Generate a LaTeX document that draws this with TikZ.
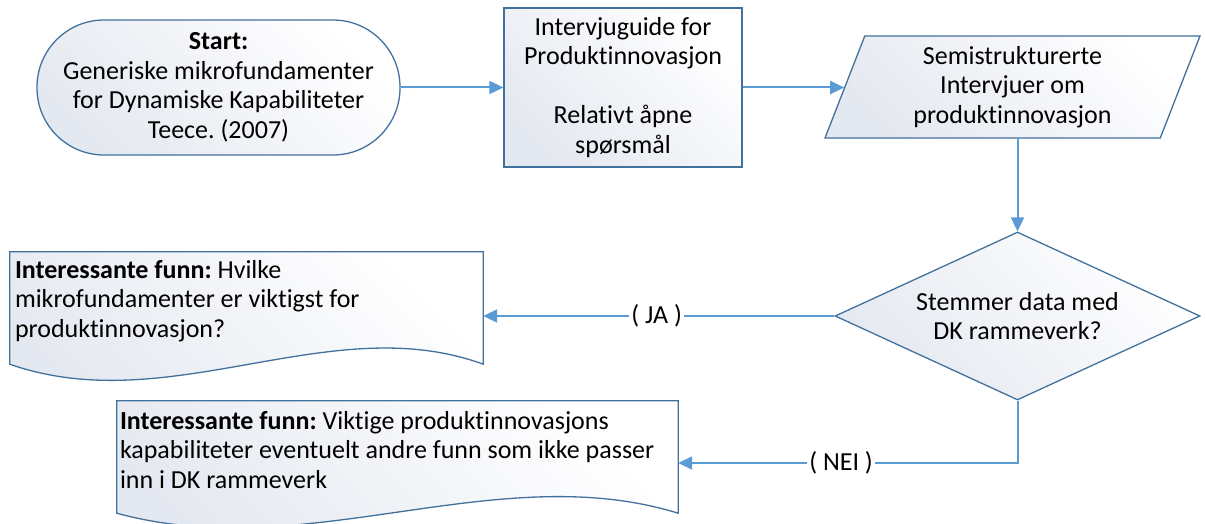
\documentclass[tikz,border=0pt]{standalone}
\usepackage{fontspec}
\setmainfont{Carlito}[Ligatures=NoCommon]
\frenchspacing
\usetikzlibrary{arrows.meta,shapes.geometric,calc,backgrounds}
\definecolor{edge}{RGB}{65,113,156}
\definecolor{flow}{RGB}{91,155,213}
\definecolor{shadeg}{RGB}{228,232,240}
\begin{document}
\begin{tikzpicture}[x=1pt,y=-1pt,
  shapefill/.style={top color=white, bottom color=shadeg, shading angle=-45},
  outline/.style={draw=edge, line width=1.3pt, shapefill},
  txt/.style={font=\fontsize{26}{29.5}\selectfont, align=center, inner sep=0pt},
  doctxt/.style={font=\fontsize{26}{29.5}\selectfont, align=left, inner sep=0pt, anchor=west},
  docarea/.style={inner sep=0pt},
  flowline/.style={draw=flow, line width=2pt, -{Triangle[length=14pt,width=13pt]}},
  lbl/.style={fill=white, inner sep=2pt, font=\fontsize{26}{29.5}\selectfont}]
\useasboundingbox (0,0) rectangle (1206,524);

% start terminal
\node[outline, txt, minimum width=363pt, minimum height=135pt, rounded corners=67pt]
  (start) at (218.5,87.5)
  {\textbf{Start:}\\Generiske mikrofundamenter\\for Dynamiske Kapabiliteter\\Teece. (2007)};

% interview guide
\node[outline, txt, minimum width=238pt, minimum height=159pt] (guide) at (623,87.5)
  {Intervjuguide for\\Produktinnovasjon\\[29.5pt]Relativt åpne\\spørsmål};

% interviews (data)
\node[outline, txt, trapezium, trapezium left angle=64, trapezium right angle=116,
  trapezium stretches body, minimum width=375pt, minimum height=102pt]
  (interv) at (1012.5,87)
  {Semistrukturerte\\Intervjuer om\\produktinnovasjon};

% decision
\node[outline, txt, diamond, aspect=2.17, minimum width=365pt, minimum height=168pt]
  (check) at (1017.5,316) {Stemmer data med\\DK rammeverk?};

% document areas
\node[docarea, minimum width=473pt, minimum height=128pt] (found) at (246.5,316) {};
\node[docarea, minimum width=561pt, minimum height=124pt] (other) at (397.5,463) {};

\begin{scope}[on background layer]
  \path[outline] (found.north west) -- (found.north east) -- ([yshift=16pt]found.south east)
    .. controls ($(found.south east)+(-153,-72)$) and ($(found.south west)+(160,40)$)
    .. ([yshift=16pt]found.south west) -- cycle;
  \path[outline] (other.north west) -- (other.north east) -- ([yshift=12pt]other.south east)
    .. controls ($(other.south east)+(-182,-68)$) and ($(other.south west)+(190,40)$)
    .. ([yshift=12pt]other.south west) -- cycle;
\end{scope}

\node[doctxt] (foundtext) at ($(found.west)+(5,-15)$)
  {\textbf{Interessante funn:} Hvilke\\mikrofundamenter er viktigst for\\produktinnovasjon?};
\node[doctxt] (othertext) at ($(other.west)+(3,-13)$)
  {\textbf{Interessante funn:} Viktige produktinnovasjons\\kapabiliteter eventuelt andre funn som ikke passer\\inn i DK rammeverk};

% connectors
\draw[flowline] (start.east) -- (guide.west);
\draw[flowline] (guide.east) -- (guide.east -| interv.west);
\draw[flowline] (check.north |- interv.south) -- (check.north);
\draw[flowline] (check.west) -- node[lbl, pos=0.506] {( JA )} (check.west -| found.east);
\draw[flowline] (check.south) |- node[lbl, pos=0.76] {( NEI )} (other.east);
\end{tikzpicture}
\end{document}
